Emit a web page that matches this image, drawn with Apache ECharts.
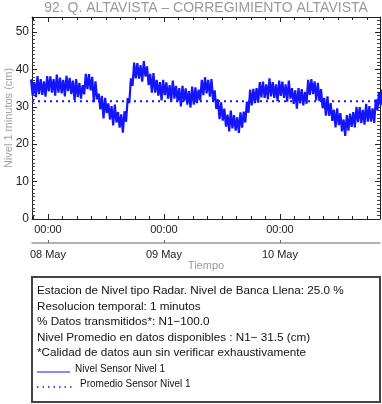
<!DOCTYPE html>
<html><head><meta charset="utf-8">
<script src="https://cdn.jsdelivr.net/npm/echarts@6/dist/echarts.min.js"></script>
<style>html,body{margin:0;padding:0;background:#fff}#c{width:382px;height:404px}</style>
</head><body><div id="c"></div>
<script>
const titleText = '92. Q. ALTAVISTA \u2013 CORREGIMIENTO ALTAVISTA';
const yName = 'Nivel 1 minutos (cm)';
const xName = 'Tiempo';
// hours relative to 08 May 00:00; band every 20 minutes
const startHour = -3.5;
const stepHours = 1 / 3;
const nivel = [
37.3,33.0,36.6, 32.6,38.2,33.4, 37.4,33.2,36.8, 32.7,38.2,34.1,
38.1,33.8,37.4, 33.0,38.6,33.8, 37.8,33.6,37.2, 32.8,38.3,34.2,
37.7,33.4,37.0, 31.8,37.4,32.6, 36.4,32.2,35.8, 33.3,38.8,34.7,
38.7,34.4,38.0, 31.2,36.8,32.0, 33.5,29.3,32.9, 26.9,32.4,28.3,
30.9,26.6,30.2, 25.0,30.6,25.8, 28.6,24.4,28.0, 23.1,28.8,26.0,
32.3,31.0,37.6, 35.6,41.8,37.6, 41.7,37.5,41.1, 36.7,42.2,38.1,
40.8,35.8,38.8, 33.8,39.0,33.8, 37.2,33.0,36.6, 31.7,37.2,33.1,
36.5,32.2,35.8, 31.4,37.0,32.2, 35.6,31.4,35.0, 30.1,35.6,31.5,
34.9,30.6,34.2, 29.8,35.4,30.6, 35.2,31.0,34.6, 31.7,37.2,33.1,
37.9,33.6,37.2, 32.7,37.4,31.6, 34.4,29.4,32.0, 26.7,31.2,26.3,
29.5,24.7,27.9, 23.4,29.0,24.2, 27.8,23.6,27.2, 23.0,28.5,24.4,
28.7,25.8,31.4, 28.4,34.6,30.4, 34.8,31.0,35.0, 31.1,36.6,32.5,
36.7,32.4,36.0, 32.0,37.6,32.8, 36.6,32.4,36.0, 31.5,37.0,32.9,
36.7,32.4,36.0, 31.4,37.0,32.2, 35.0,30.8,34.4, 29.5,35.0,30.9,
34.7,30.4,34.0, 30.8,37.2,33.2, 37.4,33.4,36.8, 31.7,36.4,31.5,
34.7,29.6,32.4, 27.6,32.8,27.6, 31.0,26.2,29.2, 24.5,29.6,25.1,
28.3,23.4,26.6, 22.2,27.8,23.6, 28.2,24.6,28.6, 24.5,30.0,25.9,
29.9,25.6,29.2, 25.2,30.8,26.0, 30.2,26.0,29.6, 25.7,32.0,29.1,
33.9,30.4,34.6
];
const promedio = 31.5;
const xMin = -3.3, xMax = 68.7;
const dayTicks = [0, 24, 48];
const timeLabels = ['00:00', '00:00', '00:00'];
const dateLabels = ['08 May', '09 May', '10 May'];
const yMin = 0, yMax = 54, yInterval = 10;
const infoLines = [
  'Estacion de Nivel tipo Radar. Nivel de Banca Llena: 25.0 %',
  'Resolucion temporal: 1 minutos',
  '% Datos transmitidos*: N1\u2212100.0',
  'Nivel Promedio en datos disponibles : N1\u2212 31.5 (cm)',
  '*Calidad de datos aun sin verificar exhaustivamente'
];
const legendNames = ['Nivel Sensor Nivel 1', 'Promedio Sensor Nivel 1'];

const minorTicks = [];
for (let h = -3; h <= 68; h += 3) if (dayTicks.indexOf(h) < 0) minorTicks.push(h);

const seriesData = nivel.map((v, i) => [startHour + i * stepHours, v]);
const FONT = '"Liberation Sans", Arial, sans-serif';
const BLUE = '#1414ff';
const chart = echarts.init(document.getElementById('c'), null, {renderer: 'canvas'});

const baseX = {type: 'value', min: xMin, max: xMax, splitLine: {show: false}};
const frame = {show: true, onZero: false, lineStyle: {color: '#222', width: 1}};
const noLine = {show: false, onZero: false};
const opt = {
  animation: false,
  backgroundColor: '#fff',
  title: {text: titleText, left: 206, top: 1, padding: 0, textAlign: 'center',
    textStyle: {color: '#9a9a9a', fontFamily: FONT, fontSize: 14, fontWeight: 'normal'}},
  grid: {left: 32, top: 17, width: 348, height: 202, containLabel: false, outerBoundsMode: 'none'},
  xAxis: [
    Object.assign({}, baseX, {position: 'bottom', axisLine: frame,
      axisTick: {customValues: dayTicks, inside: true, length: 5, lineStyle: {color: '#222'}},
      axisLabel: {customValues: dayTicks, formatter: (v) => timeLabels[dayTicks.indexOf(v)], color: '#222', fontFamily: FONT, fontSize: 11, margin: 5}}),
    Object.assign({}, baseX, {position: 'bottom', axisLine: noLine,
      axisTick: {customValues: minorTicks, inside: true, length: 3, lineStyle: {color: '#222'}},
      axisLabel: {show: false}}),
    Object.assign({}, baseX, {position: 'top', axisLine: frame,
      axisTick: {customValues: dayTicks, inside: true, length: 5, lineStyle: {color: '#222'}},
      axisLabel: {show: false}}),
    Object.assign({}, baseX, {position: 'top', axisLine: noLine,
      axisTick: {customValues: minorTicks, inside: true, length: 3, lineStyle: {color: '#222'}},
      axisLabel: {show: false}}),
    Object.assign({}, baseX, {position: 'bottom', offset: 24,
      axisLine: {show: true, onZero: false, lineStyle: {color: '#999', width: 1.5}},
      axisTick: {customValues: dayTicks, inside: true, length: 3, lineStyle: {color: '#666'}},
      axisLabel: {customValues: dayTicks, formatter: (v) => dateLabels[dayTicks.indexOf(v)], color: '#222', fontFamily: FONT, fontSize: 11, margin: 6},
      name: xName, nameLocation: 'middle', nameGap: 16,
      nameTextStyle: {color: '#9a9a9a', fontFamily: FONT, fontSize: 11}})
  ],
  yAxis: [
    {type: 'value', min: yMin, max: yMax, interval: yInterval, position: 'left',
      axisLine: frame, splitLine: {show: false},
      axisTick: {inside: true, length: 5, lineStyle: {color: '#222'}},
      minorTick: {show: true, splitNumber: 10, length: 3, lineStyle: {color: '#444'}},
      axisLabel: {color: '#222', fontFamily: FONT, fontSize: 12, margin: 3, showMaxLabel: false},
      name: yName, nameLocation: 'middle', nameGap: 18, nameMoveOverlap: false,
      nameTextStyle: {color: '#a0a0a0', fontFamily: FONT, fontSize: 11}},
    {type: 'value', min: yMin, max: yMax, interval: yInterval, position: 'right',
      axisLine: frame, splitLine: {show: false},
      axisTick: {inside: true, length: 5, lineStyle: {color: '#222'}},
      minorTick: {show: true, splitNumber: 10, length: 3, lineStyle: {color: '#444'}},
      axisLabel: {show: false}}
  ],
  series: [
    {type: 'line', name: legendNames[0], xAxisIndex: 0, yAxisIndex: 0, data: seriesData,
      showSymbol: false, symbol: 'none', clip: true,
      lineStyle: {color: BLUE, width: 2.2}},
    {type: 'line', name: legendNames[1], xAxisIndex: 0, yAxisIndex: 0,
      data: [[xMin, promedio], [xMax, promedio]], showSymbol: false, symbol: 'none',
      lineStyle: {color: BLUE, width: 2, type: [2, 4]}}
  ],
  graphic: []
};

const boxTop = 277;
opt.graphic.push({type: 'rect', shape: {x: 32, y: boxTop, width: 348, height: 125},
  style: {fill: '#fff', stroke: '#444', lineWidth: 2}});
const lineY = [291, 307, 322, 338, 353];
infoLines.forEach((t, i) => opt.graphic.push({type: 'text', x: 37, y: lineY[i],
  style: {text: t, fill: '#111', font: '11.7px ' + FONT, verticalAlign: 'middle'}}));
const legY = [369, 384];
opt.graphic.push({type: 'line', shape: {x1: 37, y1: legY[0] + 3, x2: 70, y2: legY[0] + 3}, style: {stroke: BLUE, lineWidth: 1.2}});
opt.graphic.push({type: 'line', shape: {x1: 37, y1: legY[1] + 3, x2: 75, y2: legY[1] + 3}, style: {stroke: BLUE, lineWidth: 1.5, lineDash: [1.5, 4]}});
opt.graphic.push({type: 'text', x: 75, y: legY[0], style: {text: legendNames[0], fill: '#111', font: '10px ' + FONT, verticalAlign: 'middle'}});
opt.graphic.push({type: 'text', x: 80, y: legY[1], style: {text: legendNames[1], fill: '#111', font: '10px ' + FONT, verticalAlign: 'middle'}});

chart.setOption(opt);
</script></body></html>
